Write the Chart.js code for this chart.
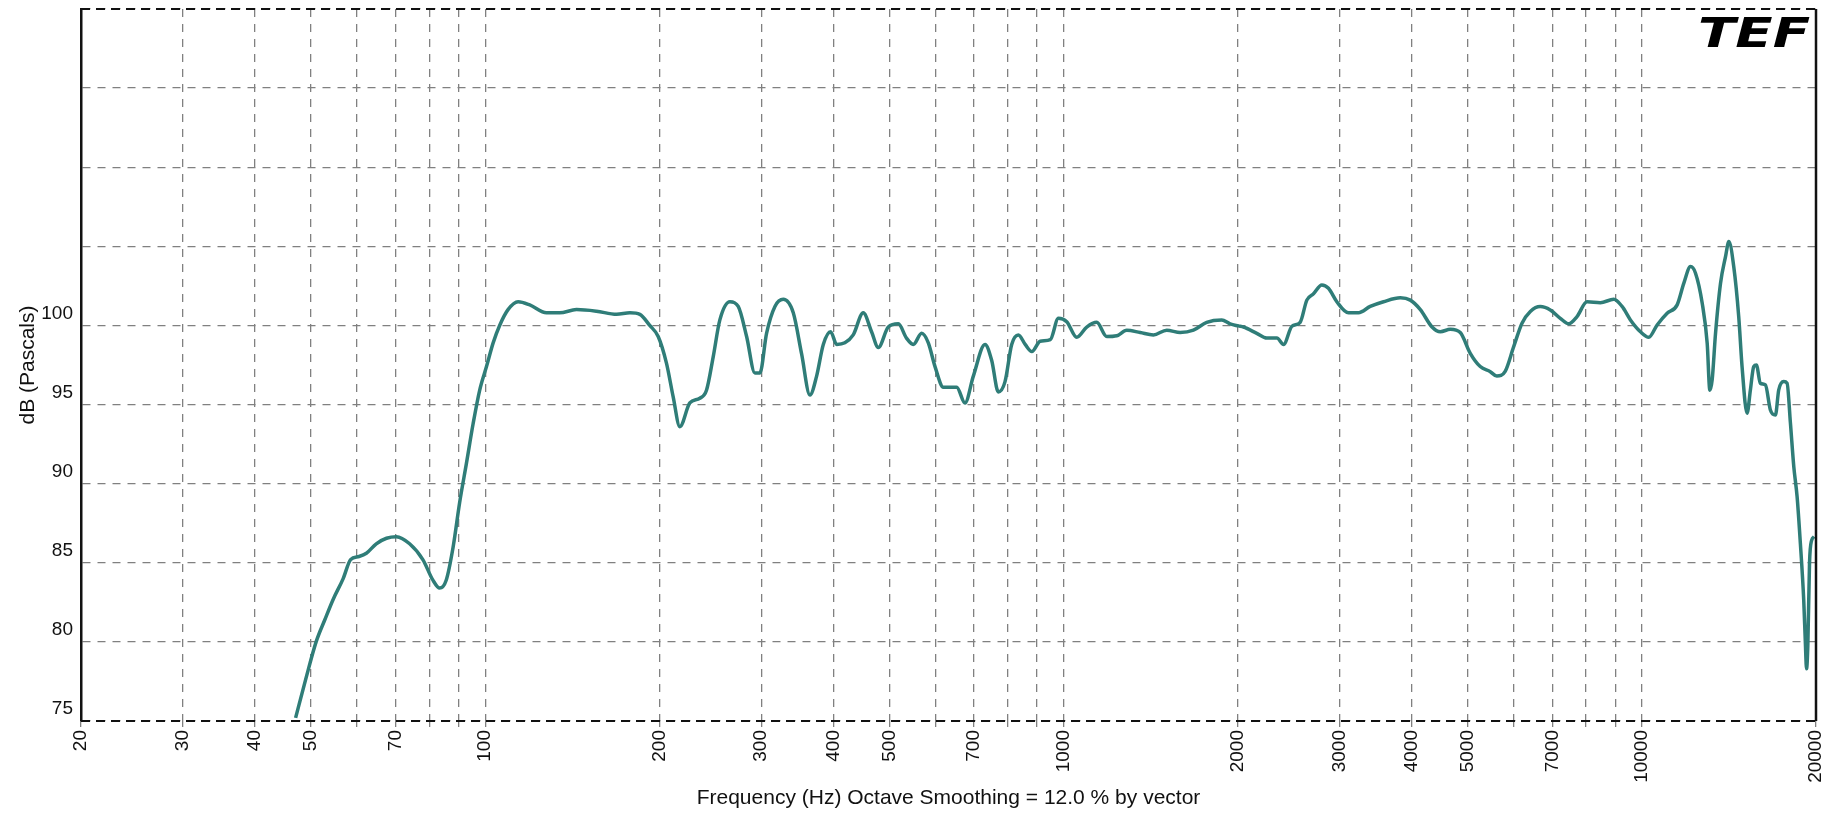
<!DOCTYPE html>
<html>
<head>
<meta charset="utf-8">
<script src="https://cdn.jsdelivr.net/npm/chart.js@4/dist/chart.umd.min.js"></script>
<style>
  html, body { margin: 0; padding: 0; background: #fff; }
  #wrap { width: 1825px; height: 814px; position: relative; }
</style>
</head>
<body>
<div id="wrap"><canvas id="tefChart"></canvas></div>
<script>
// frequency response (Hz / dB)
const freqs = [
    47.0, 48.9, 51.0, 52.8, 54.6, 56.8, 58.5, 60.5, 62.3, 64.8, 67.5, 70.2, 74.0, 78.0, 81.2, 83.4, 85.6, 88.0,
    90.3, 92.8, 95.3, 97.8, 100.5, 103.2, 105.9, 109.5, 114.0, 119.4, 127.6, 134.5, 143.8, 155.7, 168.7, 177.9,
    185.1, 192.5, 199.1, 205.8, 211.3, 217.0, 225.8, 235.0, 241.3, 247.8, 254.5, 264.9, 273.8, 283.1, 292.6,
    298.5, 306.5, 316.9, 327.6, 340.9, 352.4, 364.3, 374.1, 384.2, 395.6, 405.2, 418.6, 432.8, 450.4, 465.6,
    478.2, 497.6, 518, 535, 549.8, 568.3, 583.6, 599.4, 619.6, 653.4, 675.4, 698.2, 731.4, 751, 771.3, 792.1,
    813.4, 835.3, 858.3, 881.4, 911.1, 948.6, 979.6, 1012.6, 1053.8, 1096.6, 1141.2, 1187.6, 1236, 1286, 1357,
    1430, 1508, 1591, 1677, 1768, 1877, 1941, 2006, 2047, 2158, 2246, 2338, 2401, 2482, 2565, 2634, 2705, 2796,
    2871, 2968, 3109, 3236, 3390, 3575, 3822, 3977, 4139, 4336, 4482, 4664, 4852, 5049, 5254, 5468, 5612, 5802,
    6002, 6204, 6413, 6673, 6944, 7226, 7471, 7723, 8037, 8475, 8939, 9241, 9553, 9942, 10278, 10625, 11057,
    11507, 11818, 12136, 12380, 12714, 12969, 13107, 13228, 13406, 13676, 13950, 14137, 14414, 14703, 14900,
    15200, 15402, 15608, 15775, 16026, 16350, 16679, 17015, 17241, 17590, 17825, 18064, 18307, 18550, 18793,
    19046, 19173, 19260, 19360, 19490, 19650, 19850
];
const spl = [
    75.2, 77.6, 80.0, 81.4, 82.7, 84.0, 85.2, 85.4, 85.6, 86.2, 86.55, 86.65, 86.2, 85.2, 83.9, 83.4, 83.9, 86.0,
    88.8, 91.3, 93.8, 95.9, 97.4, 98.9, 100.0, 101.0, 101.5, 101.3, 100.8, 100.8, 101.0, 100.9, 100.7, 100.8,
    100.7, 100.0, 99.3, 97.6, 95.5, 93.6, 95.1, 95.4, 95.9, 98.0, 100.35, 101.5, 101.2, 99.3, 97.0,
    97.0, 99.5, 101.2, 101.65, 100.8, 98.2, 95.6, 96.8, 98.8, 99.6, 98.8, 98.9, 99.4, 100.8, 99.6,
    98.6, 99.9, 100.1, 99.2, 98.8, 99.5, 98.9, 97.4, 96.1, 96.1, 95.1, 96.8, 98.8, 97.8, 95.8, 96.45,
    98.8, 99.4, 98.8, 98.35, 99.0, 99.1, 100.45, 100.24, 99.25, 99.9, 100.2, 99.3, 99.35, 99.7, 99.55,
    99.4, 99.7, 99.55, 99.7, 100.2, 100.35, 100.1, 99.97, 99.9, 99.5, 99.2, 99.2, 98.8, 99.95, 100.2, 101.6, 102.0, 102.56,
    102.35, 101.5, 100.8, 100.8, 101.2, 101.5, 101.75, 101.6, 101.0, 99.9, 99.6, 99.76, 99.55, 98.24, 97.4, 97.08, 96.8, 97.1,
    98.66, 100.14, 100.88, 101.19, 100.98, 100.45, 100.1, 100.56, 101.5, 101.44, 101.65, 101.2, 100.35, 99.6, 99.25, 100.03, 100.77,
    101.3, 102.67, 103.72, 103.3, 101.4, 98.87, 95.9, 96.56, 99.5, 102.67, 104.35, 105.3, 103.72, 100.56, 97.4,
    94.45, 95.92, 97.4, 97.5, 96.35, 96.24, 94.66, 94.34, 95.92, 96.45, 96.35, 93.82, 91.08, 89.18, 86.23,
    82.65, 79.9, 78.3, 79.8, 84.97, 86.4, 86.65
];

// grid lines every 1-9 x decade, labels only on some of them
const gridFreqs = [20, 30, 40, 50, 60, 70, 80, 90, 100, 200, 300, 400, 500, 600, 700, 800, 900,
    1000, 2000, 3000, 4000, 5000, 6000, 7000, 8000, 9000, 10000, 20000];
const freqLabels = [20, 30, 40, 50, 70, 100, 200, 300, 400, 500, 700, 1000, 2000, 3000, 4000, 5000, 7000, 10000, 20000];
const dbTicks = [75, 80, 85, 90, 95, 100, 105, 110, 115, 120];
const dbLabels = [75, 80, 85, 90, 95, 100];

const gridGray = '#808080';
const curveColor = '#2f7d78';

const framePlugin = {
    id: 'frame',
    afterDraw(chart) {
        const { ctx, chartArea: a } = chart;
        ctx.save();
        ctx.strokeStyle = '#111';
        ctx.lineWidth = 2;
        ctx.setLineDash([9, 6]);
        ctx.beginPath();
        ctx.moveTo(a.left, a.top); ctx.lineTo(a.right, a.top);
        ctx.moveTo(a.left, a.bottom); ctx.lineTo(a.right, a.bottom);
        ctx.stroke();
        ctx.setLineDash([]);
        ctx.lineWidth = 2.5;
        ctx.beginPath();
        ctx.moveTo(a.right, a.top); ctx.lineTo(a.right, a.bottom);
        ctx.stroke();

        // TEF logo
        ctx.fillStyle = '#000';
        ctx.font = 'bold italic 40px "DejaVu Sans"';
        ctx.textBaseline = 'alphabetic';
        const w = ctx.measureText('TEF').width;
        ctx.translate(a.right - 118, 47);
        ctx.scale(112 / w, 1);
        ctx.fillText('TEF', 0, 0);
        ctx.restore();
    }
};

const ctx = document.getElementById('tefChart');
new Chart(ctx, {
    type: 'line',
    data: {
        datasets: [{
            label: 'Response',
            data: freqs.map((f, i) => ({ x: f, y: spl[i] })),
            borderColor: curveColor,
            borderWidth: 3.5,
            pointRadius: 0,
            cubicInterpolationMode: 'monotone',
            fill: false
        }]
    },
    options: {
        responsive: true,
        maintainAspectRatio: false,
        animation: false,
        devicePixelRatio: 1,
        layout: { padding: { left: 12, top: 9, right: 9, bottom: 0 } },
        plugins: {
            legend: { display: false },
            tooltip: { enabled: false }
        },
        scales: {
            x: {
                type: 'logarithmic',
                min: 20,
                max: 20000,
                afterBuildTicks: s => { s.ticks = gridFreqs.map(v => ({ value: v })); },
                afterFit: s => { s.height = 93; s.paddingLeft = 0; s.paddingRight = 0; },
                ticks: {
                    autoSkip: false,
                    minRotation: 90,
                    maxRotation: 90,
                    padding: 3,
                    color: '#111',
                    font: { family: 'Liberation Sans', size: 19 },
                    callback: v => freqLabels.includes(v) ? String(v) : ''
                },
                grid: {
                    color: gridGray,
                    lineWidth: 1.3,
                    drawTicks: true,
                    tickLength: 6,
                    tickColor: gridGray,
                    tickBorderDash: []
                },
                border: { display: false, dash: [8, 7] },
                title: {
                    display: true,
                    text: 'Frequency (Hz) Octave Smoothing = 12.0 % by vector',
                    color: '#111',
                    font: { family: 'Liberation Sans', size: 21 },
                    padding: { top: 2, bottom: 3 }
                }
            },
            y: {
                min: 75,
                max: 120,
                afterBuildTicks: s => { s.ticks = dbTicks.map(v => ({ value: v })); },
                afterFit: s => { s.width = 69; s.paddingTop = 0; s.paddingBottom = 0; },
                ticks: {
                    padding: 8,
                    labelOffset: -12,
                    color: '#111',
                    font: { family: 'Liberation Sans', size: 19 },
                    callback: v => dbLabels.includes(v) ? String(v) : ''
                },
                grid: {
                    color: gridGray,
                    lineWidth: 1.3,
                    drawTicks: false
                },
                border: { display: true, color: '#111', width: 2.5, dash: [8, 7] },
                title: {
                    display: true,
                    text: 'dB (Pascals)',
                    color: '#111',
                    font: { family: 'Liberation Sans', size: 21 },
                    padding: { top: 4, bottom: 4 }
                }
            }
        }
    },
    plugins: [framePlugin]
});
</script>
</body>
</html>
